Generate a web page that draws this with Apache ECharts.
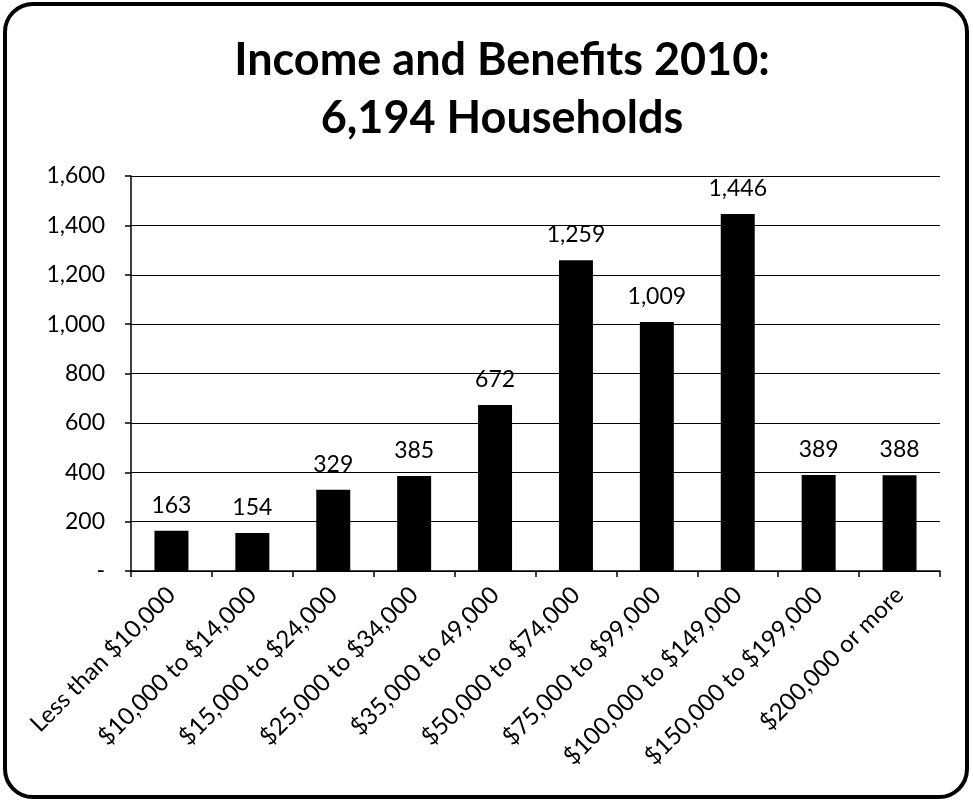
<!DOCTYPE html>
<html><head><meta charset="utf-8">
<script src="https://cdn.jsdelivr.net/npm/echarts@6/dist/echarts.min.js"></script>
<style>html,body{margin:0;padding:0;background:#fff}#c{width:973px;height:802px}</style>
</head><body><div id="c"></div>
<script>
const categories = ['Less than $10,000','$10,000 to $14,000','$15,000 to $24,000','$25,000 to $34,000','$35,000 to 49,000','$50,000 to $74,000','$75,000 to $99,000','$100,000 to $149,000','$150,000 to $199,000','$200,000 or more'];
const households = [163,154,329,385,672,1259,1009,1446,389,388];
const titleText = 'Income and Benefits 2010:\n6,194 Households';
const FONT = 'Lato';
const fmt = v => v === 0 ? '-' : v.toLocaleString('en-US');
const chart = echarts.init(document.getElementById('c'), null, {renderer:'canvas'});
chart.setOption({
  backgroundColor:'#fff',
  animation:false,
  title:{text:titleText,left:497,textAlign:'center',top:26,textStyle:{fontFamily:FONT,fontWeight:'bold',fontSize:45,lineHeight:58,color:'#000'}},
  graphic:[{type:'rect',shape:{x:5,y:4,width:962,height:793,r:28},style:{fill:'none',stroke:'#000',lineWidth:4},z:100}],
  grid:{left:131,right:33,top:176,bottom:231},
  xAxis:{type:'category',data:categories,
    axisLine:{lineStyle:{color:'#000',width:1.5}},
    axisTick:{show:true,length:6,lineStyle:{color:'#000',width:1.5}},
    axisLabel:{rotate:45,interval:0,fontFamily:FONT,fontSize:24,color:'#000',margin:20}},
  yAxis:{type:'value',min:0,max:1600,interval:200,
    axisLine:{show:true,lineStyle:{color:'#000',width:1.5}},
    axisTick:{show:true,length:6,lineStyle:{color:'#000',width:1.5}},
    splitLine:{lineStyle:{color:'#000',width:1.2}},
    axisLabel:{formatter:fmt,fontFamily:FONT,fontSize:23,color:'#000',margin:26}},
  series:[{type:'bar',data:households,barWidth:'42%',itemStyle:{color:'#000'},
    label:{show:true,position:'top',distance:14,formatter:p=>fmt(p.value),fontFamily:FONT,fontSize:23,color:'#000'}}]
});
</script></body></html>
